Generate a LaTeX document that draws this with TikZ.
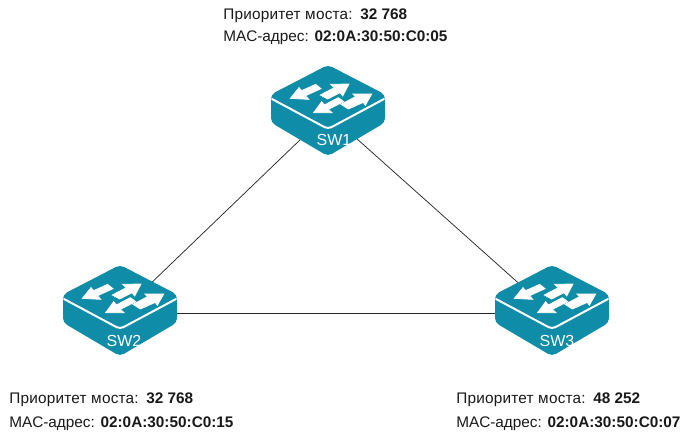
\documentclass[tikz,border=0pt]{standalone}
\usepackage{fontspec}
\setmainfont{Liberation Sans}
\definecolor{swteal}{HTML}{0F8CA8}
\newcommand{\zp}[2]{({(#1-129)/3},{(#2-114)/3})}
\newcommand{\prio}[1]{{\addfontfeature{LetterSpace=1.5}Приоритет моста:}\hspace{1.4pt} \textbf{#1}}
\tikzset{
  x=0.75pt,y=-0.75pt,
  link/.style={draw=black!85,line width=0.55pt},
  info/.style={anchor=base west,inner sep=0pt,font=\fontsize{11.5}{13}\selectfont,text=black!90},
  swlabel/.style={anchor=center,inner sep=0pt,text=white,font=\fontsize{12}{13}\selectfont},
  switchbody/.style={fill=swteal,draw=swteal,line width=1.5pt,line join=round,rounded corners=3pt},
  swarrow/.style={fill=white,draw=white,line width=0.6pt,line join=miter,miter limit=3},
  pics/netswitch/.style={code={
    \path[switchbody] (0,-47) -- (56,-18) -- (56,9) -- (0,42) -- (-56,9) -- (-56,-18) -- cycle;
    \draw[white,line width=1.5pt,line cap=round,line join=round,rounded corners=3pt] (-56,-14) -- (0,16) -- (56,-14);
    \path[swarrow] \zp{16}{70} -- \zp{42}{38} -- \zp{50}{47} -- \zp{92}{28} -- \zp{108}{41} -- \zp{62}{62} -- \zp{71}{73} -- cycle;
    \path[swarrow] \zp{192}{27} -- \zp{137}{28} -- \zp{148}{38} -- \zp{106}{60} -- \zp{128}{72} -- \zp{165}{53} -- \zp{173}{63} -- cycle;
    \path[swarrow] \zp{86}{113} -- \zp{110}{80} -- \zp{118}{90} -- \zp{160}{68} -- \zp{176}{80} -- \zp{130}{103} -- \zp{141}{113} -- cycle;
    \path[swarrow] \zp{260}{57} -- \zp{204}{57} -- \zp{212}{65} -- \zp{168}{88} -- \zp{190}{102} -- \zp{235}{82} -- \zp{241}{91} -- cycle;
  }}
}
\begin{document}
\begin{tikzpicture}
\useasboundingbox (0,0) rectangle (690,437);
\coordinate (c1) at (328,113);
\coordinate (c2) at (120,313);
\coordinate (c3) at (552,313);
\draw[link] (c1) -- (c2);
\draw[link] (c1) -- (c3);
\draw[link] (c2) -- (c3);
\pic (sw1) at (c1) {netswitch};
\pic (sw2) at (c2) {netswitch};
\pic (sw3) at (c3) {netswitch};
\node[swlabel] (l1) at (334,139.5) {SW1};
\node[swlabel] (l2) at (124,340.5) {SW2};
\node[swlabel] (l3) at (557,340.5) {SW3};
\node[info] (a1) at (223,19.5) {\prio{32 768}};
\node[info] (b1) at (223,41.5) {MAC-адрес: \textbf{02:0A:30:50:C0:05}};
\node[info] (a2) at (9,403.5) {\prio{32 768}};
\node[info] (b2) at (9,427) {MAC-адрес: \textbf{02:0A:30:50:C0:15}};
\node[info] (a3) at (456,403.5) {\prio{48 252}};
\node[info] (b3) at (456,427) {MAC-адрес: \textbf{02:0A:30:50:C0:07}};
\end{tikzpicture}
\end{document}
